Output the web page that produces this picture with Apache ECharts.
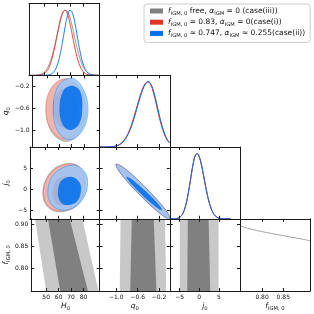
<!DOCTYPE html>
<html><head><meta charset="utf-8">
<script src="https://cdn.jsdelivr.net/npm/echarts@6/dist/echarts.min.js"></script>
<style>html,body{margin:0;padding:0;background:#fff}#c{width:314px;height:314px}</style>
</head><body><div id="c"></div>
<script>
// ---------- tick values ----------
const H0_TICKS = [50, 60, 70, 80];
const Q0_TICKS = [-1.0, -0.6, -0.2];
const J0_TICKS = [-5, 0, 5];
const FIGM_TICKS_Y = [0.80, 0.85, 0.90];
const FIGM_TICKS_X = [0.80, 0.85];

// ---------- 1D marginals [param, density] ----------
const H0_MARG_GREY = [[38,0.0002],[40,0.0005],[42,0.0015],[44,0.0042],[46,0.0107],[48,0.0247],[50,0.0523],[52,0.103],[54,0.184],[56,0.305],[58,0.458],[60,0.632],[62,0.804],[64,0.934],[66,0.997],[68,0.976],[70,0.877],[72,0.72],[74,0.546],[76,0.375],[78,0.24],[80,0.138],[82,0.074],[84,0.037],[86,0.0164],[88,0.0068],[90,0.0025],[92,0.0009]];
const H0_MARG_RED  = [[38,0],[40,0.0001],[42,0.0004],[44,0.0014],[46,0.0043],[48,0.0122],[50,0.0314],[52,0.071],[54,0.144],[56,0.265],[58,0.43],[60,0.626],[62,0.819],[64,0.956],[66,1.0],[68,0.934],[70,0.783],[72,0.588],[74,0.392],[76,0.236],[78,0.127],[80,0.061],[82,0.026],[84,0.01],[86,0.0034],[88,0.001],[90,0.0003],[92,0]];
const H0_MARG_BLUE = [[44,0],[46,0],[48,0.0002],[50,0.0007],[52,0.0028],[54,0.0093],[56,0.0276],[58,0.071],[60,0.158],[62,0.301],[64,0.504],[66,0.731],[68,0.916],[70,0.999],[72,0.944],[74,0.773],[76,0.551],[78,0.339],[80,0.181],[82,0.083],[84,0.034],[86,0.0117],[88,0.0035],[90,0.0009],[92,0.0002]];
const Q0_MARG_GREY = [[-1.31,0],[-1.2,0.0007],[-1.1,0.004],[-1.05,0.0083],[-1.0,0.017],[-0.95,0.032],[-0.9,0.059],[-0.85,0.101],[-0.8,0.164],[-0.75,0.249],[-0.7,0.36],[-0.65,0.493],[-0.6,0.635],[-0.55,0.775],[-0.5,0.892],[-0.45,0.972],[-0.4,1],[-0.35,0.958],[-0.3,0.841],[-0.25,0.678],[-0.2,0.499],[-0.15,0.339],[-0.1,0.212],[-0.05,0.12],[0,0.063]];
const Q0_MARG_RED  = [[-1.31,0],[-1.21,0.0007],[-1.11,0.004],[-1.06,0.0083],[-1.01,0.017],[-0.96,0.032],[-0.91,0.059],[-0.86,0.101],[-0.81,0.164],[-0.76,0.249],[-0.71,0.36],[-0.66,0.493],[-0.61,0.635],[-0.56,0.775],[-0.51,0.892],[-0.46,0.972],[-0.41,1],[-0.36,0.958],[-0.31,0.841],[-0.26,0.678],[-0.21,0.499],[-0.16,0.339],[-0.11,0.212],[-0.06,0.12],[-0.01,0.063],[0,0.058]];
const Q0_MARG_BLUE = [[-1.31,0],[-1.2,0.0007],[-1.1,0.004],[-1.05,0.0083],[-1.0,0.017],[-0.95,0.032],[-0.9,0.059],[-0.85,0.101],[-0.8,0.164],[-0.75,0.249],[-0.7,0.36],[-0.65,0.493],[-0.6,0.635],[-0.55,0.775],[-0.5,0.892],[-0.45,0.972],[-0.4,1],[-0.35,0.958],[-0.3,0.841],[-0.25,0.678],[-0.2,0.499],[-0.15,0.339],[-0.1,0.212],[-0.05,0.12],[0,0.063]];
const J0_MARG_GREY = [[-7.5,0.0001],[-7,0.0003],[-6.5,0.0011],[-6,0.0034],[-5.5,0.0093],[-5,0.0228],[-4.5,0.051],[-4,0.105],[-3.5,0.194],[-3,0.325],[-2.5,0.494],[-2,0.682],[-1.5,0.854],[-1,0.969],[-0.5,0.999],[0,0.951],[0.5,0.846],[1,0.702],[1.5,0.543],[2,0.392],[2.5,0.264],[3,0.166],[3.5,0.097],[4,0.053],[4.5,0.027],[5,0.013],[6,0.0024],[7,0.0003],[8,0]];
const J0_MARG_RED  = [[-7.5,0.0001],[-7,0.0003],[-6.5,0.0011],[-6,0.0034],[-5.5,0.0093],[-5,0.0228],[-4.5,0.051],[-4,0.105],[-3.5,0.194],[-3,0.325],[-2.5,0.494],[-2,0.682],[-1.5,0.854],[-1,0.969],[-0.5,0.999],[0,0.948],[0.5,0.838],[1,0.692],[1.5,0.532],[2,0.38],[2.5,0.256],[3,0.16],[3.5,0.093],[4,0.05],[4.5,0.026],[5,0.012],[6,0.0022],[7,0.0003],[8,0]];
const J0_MARG_BLUE = [[-7.5,0.0001],[-7,0.0003],[-6.5,0.0011],[-6,0.0034],[-5.5,0.0093],[-5,0.0228],[-4.5,0.051],[-4,0.105],[-3.5,0.194],[-3,0.325],[-2.5,0.494],[-2,0.682],[-1.5,0.854],[-1,0.969],[-0.5,0.999],[0,0.951],[0.5,0.846],[1,0.702],[1.5,0.543],[2,0.392],[2.5,0.264],[3,0.166],[3.5,0.097],[4,0.053],[4.5,0.027],[5,0.013],[6,0.0024],[7,0.0003],[8,0]];
const FIGM_MARG_GREY = [[0.748,0.993],[0.76,0.968],[0.781,0.932],[0.80,0.905],[0.827,0.871],[0.85,0.843],[0.874,0.814],[0.895,0.79],[0.913,0.764]];

// ---------- 2D contours (95% outer, 68% inner), [x, y] ----------
const Q0H0_GREY_OUT = [[65.5,-0.07],[77.0,-0.237],[81.8,-0.64],[77.0,-1.043],[65.5,-1.21],[54.0,-1.043],[49.2,-0.64],[54.0,-0.237]];
const Q0H0_GREY_IN  = [[65.5,-0.24],[73.0,-0.351],[76.1,-0.62],[73.0,-0.889],[65.5,-1.0],[58.0,-0.889],[54.9,-0.62],[58.0,-0.351]];
const Q0H0_RED_OUT  = [[64.5,-0.065],[75.5,-0.226],[80.1,-0.615],[75.5,-1.004],[64.5,-1.165],[53.5,-1.004],[48.9,-0.615],[53.5,-0.226]];
const Q0H0_RED_IN   = [[65,-0.23],[72.2,-0.338],[75.2,-0.6],[72.2,-0.862],[65,-0.97],[57.8,-0.862],[54.8,-0.6],[57.8,-0.338]];
const Q0H0_BLUE_OUT = [[69.7,-0.049],[78.8,-0.22],[83.5,-0.616],[78.8,-1.012],[68.4,-1.177],[58.5,-1.012],[54.9,-0.586],[59.3,-0.19]];
const Q0H0_BLUE_IN  = [[69.7,-0.19],[76.7,-0.281],[78.8,-0.586],[76.2,-0.89],[68.9,-1.0],[62.4,-0.89],[60.1,-0.586],[63.2,-0.281]];

const J0H0_GREY_OUT = [[66,6.1],[76.5,5.5],[81.5,1.8],[76.5,-3.5],[61.5,-5.4],[51,-3.9],[48.3,0.2],[55,4.4]];
const J0H0_GREY_IN  = [[66.5,3.1],[73,2.0],[75.5,-0.3],[72,-3.1],[62.5,-3.9],[57,-2.7],[55.5,-0.2],[59,2.3]];
const J0H0_RED_OUT  = [[66.3,5.94],[76.2,5.39],[80.9,1.82],[76.2,-3.34],[61.9,-5.17],[51.5,-3.74],[48.9,0.23],[55.4,4.2]];
const J0H0_RED_IN   = [[66,3.0],[72.5,2.0],[74.5,-0.3],[71,-3.0],[62,-3.8],[57,-2.6],[56,-0.2],[59,2.2]];
const J0H0_BLUE_OUT = [[71.0,5.78],[80.1,4.59],[83.5,1.82],[80.1,-2.15],[68.4,-4.93],[56.7,-4.15],[52.0,-0.96],[56.7,3.57]];
const J0H0_BLUE_IN  = [[70.5,3.0],[76.7,1.82],[78.3,-0.17],[74.9,-2.95],[65.8,-3.74],[61.1,-2.55],[60.1,-0.17],[63.2,2.21]];

const J0Q0_BLUE_OUT = [[-1.0,5.95],[-0.901,5.47],[-0.695,3.38],[-0.437,0.23],[-0.195,-3.13],[-0.035,-5.79],[0.0,-7.05],[-0.099,-6.57],[-0.305,-4.48],[-0.563,-1.33],[-0.805,2.03],[-0.965,4.69]];
const J0Q0_BLUE_IN  = [[-0.81,3.0],[-0.748,2.68],[-0.615,1.39],[-0.445,-0.54],[-0.285,-2.58],[-0.176,-4.19],[-0.15,-4.94],[-0.212,-4.62],[-0.345,-3.33],[-0.515,-1.40],[-0.675,0.64],[-0.784,2.25]];
const J0Q0_RED_OUT  = [[-1.01,6.05],[-0.905,5.5],[-0.697,3.38],[-0.437,0.23],[-0.193,-3.13],[-0.03,-5.85],[0.01,-7.15],[-0.097,-6.6],[-0.305,-4.48],[-0.563,-1.33],[-0.807,2.03],[-0.97,4.75]];
const J0Q0_RED_IN   = [[-0.81,3.0],[-0.748,2.68],[-0.615,1.39],[-0.445,-0.54],[-0.285,-2.58],[-0.176,-4.19],[-0.15,-4.94],[-0.212,-4.62],[-0.345,-3.33],[-0.515,-1.40],[-0.675,0.64],[-0.784,2.25]];
const J0Q0_GREY_OUT = [[-1.0,5.95],[-0.901,5.47],[-0.695,3.38],[-0.437,0.23],[-0.195,-3.13],[-0.035,-5.79],[0.0,-7.05],[-0.099,-6.57],[-0.305,-4.48],[-0.563,-1.33],[-0.805,2.03],[-0.965,4.69]];
const J0Q0_GREY_IN  = [[-0.81,3.0],[-0.748,2.68],[-0.615,1.39],[-0.445,-0.54],[-0.285,-2.58],[-0.176,-4.19],[-0.15,-4.94],[-0.212,-4.62],[-0.345,-3.33],[-0.515,-1.40],[-0.675,0.64],[-0.784,2.25]];

// f_IGM,0 bands (case iii only): [x, fIGM]
const FH0_OUT = [[41,0.913],[79,0.913],[92,0.748],[50,0.748]];
const FH0_IN  = [[51.4,0.913],[68.9,0.913],[83.5,0.748],[61.3,0.748]];
const FQ0_OUT = [[-0.92,0.913],[-0.09,0.913],[-0.068,0.748],[-0.935,0.748]];
const FQ0_IN  = [[-0.71,0.913],[-0.30,0.913],[-0.25,0.748],[-0.74,0.748]];
const FJ0_OUT = [[-4.95,0.913],[4.95,0.913],[4.95,0.748],[-4.95,0.748]];
const FJ0_IN  = [[-2.9,0.913],[2.4,0.913],[2.8,0.748],[-3.05,0.748]];

// ---------- layout / styles ----------
const colX = [29, 99.7, 169.8, 240, 310];
const rowY = [3.7, 75.3, 147, 218.8, 291];
const FONT = 'DejaVu Sans';
const INK = '#111';
const GREY = {base:'#808080', light:'#c8c8c8', op:1};
const RED  = {base:'#E03424', light:'#f4b0a9', op:0.85};
const BLUE = {base:'#006FED', light:'#98c5f7', op:0.85};
const RICH = {
  i:{fontStyle:'italic', fontFamily:FONT, fontSize:7.5, lineHeight:10, color:INK},
  s:{fontFamily:FONT, fontSize:5.2, lineHeight:5, verticalAlign:'bottom', color:INK}
};
const minus = s => s.replace('-', '\u2212');
const P = [
  {xmin:38, xmax:93, ymin:38, ymax:93, xt:H0_TICKS, yt:H0_TICKS, fmt:v=>minus(String(Math.round(v))), label:'{i|H}{s|0}'},
  {xmin:-1.31, xmax:0.0, ymin:-1.31, ymax:0.0, xt:Q0_TICKS, yt:Q0_TICKS, fmt:v=>minus(v.toFixed(1)), label:'{i|q}{s|0}'},
  {xmin:-7.5, xmax:10.4, ymin:-7.05, ymax:10.1, xt:J0_TICKS, yt:J0_TICKS, fmt:v=>minus(String(Math.round(v))), label:'{i|j}{s|0}'},
  {xmin:0.748, xmax:0.913, ymin:0.748, ymax:0.913, xt:FIGM_TICKS_X, yt:FIGM_TICKS_Y, fmt:v=>v.toFixed(2), label:'{i|f}{s|IGM, 0}'}
];
const lineStyle = {color:'#1a1a1a', width:1};
const nameStyle = {fontFamily:FONT, fontSize:7.5, color:INK, lineHeight:10, rich:RICH};
const grids=[], xAxes=[], yAxes=[], series=[];
const gi = (r,c) => r*(r+1)/2 + c;

for (let r=0;r<4;r++) for (let c=0;c<=r;c++) {
  const g = grids.length;
  grids.push({left:colX[c], top:rowY[r], width:colX[c+1]-colX[c], height:rowY[r+1]-rowY[r]});
  const px = P[c], diag = r===c;
  const xb = {type:'value', gridIndex:g, min:px.xmin, max:px.xmax, splitLine:{show:false}, axisLine:{show:true,onZero:false,lineStyle}, z:10};
  xAxes.push(Object.assign({}, xb, {position:'bottom',
    axisTick:{show:true, inside:true, length:3, customValues:px.xt, lineStyle},
    axisLabel:{show:r===3, customValues:px.xt, formatter:px.fmt, fontSize:6, fontFamily:FONT, color:INK, margin:3},
    name: r===3 ? px.label : '', nameLocation:'middle', nameGap:9.5, nameTextStyle:nameStyle}));
  xAxes.push(Object.assign({}, xb, {position:'top',
    axisTick:{show:true, inside:true, length:3, customValues:px.xt, lineStyle}, axisLabel:{show:false}}));
  if (diag) {
    const yb = {type:'value', gridIndex:g, min:0, max:1.1, splitLine:{show:false}, axisLine:{show:true,onZero:false,lineStyle}, axisTick:{show:false}, axisLabel:{show:false}, z:10};
    yAxes.push(Object.assign({}, yb, {position:'left'}));
    yAxes.push(Object.assign({}, yb, {position:'right'}));
  } else {
    const py = P[r];
    const yb = {type:'value', gridIndex:g, min:py.ymin, max:py.ymax, splitLine:{show:false}, axisLine:{show:true,onZero:false,lineStyle}, z:10,
      axisTick:{show:true, inside:true, length:3, customValues:py.yt, lineStyle}};
    yAxes.push(Object.assign({}, yb, {position:'left',
      axisLabel:{show:c===0, customValues:py.yt, formatter:py.fmt, fontSize:6, fontFamily:FONT, color:INK, margin:3},
      name: c===0 ? py.label : '', nameLocation:'middle', nameRotate:90, nameGap:19, nameTextStyle:nameStyle}));
    yAxes.push(Object.assign({}, yb, {position:'right', axisLabel:{show:false}}));
  }
}

function lineSeries(name, data, g, color) {
  series.push({type:'line', name, data, xAxisIndex:2*g, yAxisIndex:2*g, smooth:0.5,
    symbol:'none', showSymbol:false, silent:true, animation:false, z:4, clip:true,
    lineStyle:{color, width:0.9}, itemStyle:{color}});
}
function poly(pts, g, fill, stroke, op, smooth) {
  series.push({type:'custom', name:'poly', xAxisIndex:2*g, yAxisIndex:2*g, data:pts, clip:true, silent:true, animation:false, z:2,
    renderItem:function(params, api){
      if (params.dataIndex !== 0) return null;
      const cs = params.coordSys;
      return {type:'group', clipPath:{type:'rect', shape:{x:cs.x, y:cs.y, width:cs.width, height:cs.height}},
        children:[{type:'polygon', shape:{points:pts.map(p=>api.coord(p)), smooth:smooth},
          style:{fill, stroke:stroke||null, lineWidth:0.4, opacity:op}}]};
    }});
}
function contours(g, sets) {
  sets.forEach(([outPts, inPts, col]) => {
    poly(outPts, g, col.light, col.base, col.op, 0.37);
    poly(inPts, g, col.base, null, col.op, 0.37);
  });
}

// diagonal marginals
lineSeries('iii', H0_MARG_GREY, gi(0,0), '#8c8c8c');
lineSeries('i',   H0_MARG_RED,  gi(0,0), RED.base);
lineSeries('ii',  H0_MARG_BLUE, gi(0,0), BLUE.base);
lineSeries('q0g', Q0_MARG_GREY, gi(1,1), '#8c8c8c');
lineSeries('q0r', Q0_MARG_RED,  gi(1,1), RED.base);
lineSeries('q0b', Q0_MARG_BLUE, gi(1,1), BLUE.base);
lineSeries('j0g', J0_MARG_GREY, gi(2,2), '#8c8c8c');
lineSeries('j0r', J0_MARG_RED,  gi(2,2), RED.base);
lineSeries('j0b', J0_MARG_BLUE, gi(2,2), BLUE.base);
lineSeries('fg',  FIGM_MARG_GREY, gi(3,3), '#9a9a9a');

// 2D panels
contours(gi(1,0), [[Q0H0_GREY_OUT,Q0H0_GREY_IN,GREY],[Q0H0_RED_OUT,Q0H0_RED_IN,RED],[Q0H0_BLUE_OUT,Q0H0_BLUE_IN,BLUE]]);
contours(gi(2,0), [[J0H0_GREY_OUT,J0H0_GREY_IN,GREY],[J0H0_RED_OUT,J0H0_RED_IN,RED],[J0H0_BLUE_OUT,J0H0_BLUE_IN,BLUE]]);
contours(gi(2,1), [[J0Q0_GREY_OUT,J0Q0_GREY_IN,GREY],[J0Q0_RED_OUT,J0Q0_RED_IN,RED],[J0Q0_BLUE_OUT,J0Q0_BLUE_IN,BLUE]]);
poly(FH0_OUT, gi(3,0), GREY.light, null, 1, 0); poly(FH0_IN, gi(3,0), GREY.base, null, 1, 0);
poly(FQ0_OUT, gi(3,1), GREY.light, null, 1, 0); poly(FQ0_IN, gi(3,1), GREY.base, null, 1, 0);
poly(FJ0_OUT, gi(3,2), GREY.light, null, 1, 0); poly(FJ0_IN, gi(3,2), GREY.base, null, 1, 0);

const LEGEND_TEXT = {
  iii:'{i|f}{s|IGM, 0} free, {i|\u03b1}{s|IGM} = 0 (case(iii))',
  i:'{i|f}{s|IGM, 0} = 0.83, {i|\u03b1}{s|IGM} = 0(case(i))',
  ii:'{i|f}{s|IGM, 0} \u2248 0.747, {i|\u03b1}{s|IGM} \u2248 0.255(case(ii))'
};
const LEGEND_COLORS = {iii:'#808080', i:'#E03424', ii:'#006FED'};

const chart = echarts.init(document.getElementById('c'), null, {renderer:'canvas'});
chart.setOption({
  animation:false,
  backgroundColor:'#fff',
  grid:grids, xAxis:xAxes, yAxis:yAxes, series,
  legend:{left:144, top:4, orient:'vertical', icon:'rect', itemWidth:13, itemHeight:5, itemGap:1.2,
    padding:[2,5,4,6], backgroundColor:'#fff', borderColor:'#cccccc', borderWidth:1, borderRadius:3,
    selectedMode:false,
    data:['iii','i','ii'].map(n=>({name:n, itemStyle:{color:LEGEND_COLORS[n]}})),
    formatter:n=>LEGEND_TEXT[n],
    textStyle:{fontFamily:FONT, fontSize:7.5, color:INK, lineHeight:10, rich:RICH}}
});
</script></body></html>
